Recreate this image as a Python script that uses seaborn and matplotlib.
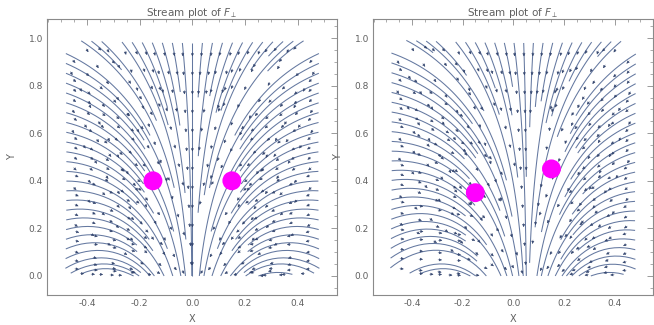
import numpy as np
import matplotlib
matplotlib.use("Agg")
import matplotlib.pyplot as plt
import seaborn as sns
import pandas as pd
from matplotlib.patches import FancyArrowPatch
from matplotlib.ticker import MultipleLocator

# ---------------- data ----------------
panel_title = "Stream plot of $F_{\\perp}$"
charges_left_x = [-0.15, 0.15]
charges_left_y = [0.40, 0.40]
charges_right_x = [-0.15, 0.15]
charges_right_y = [0.35, 0.45]
x_domain = [-0.5, 0.5]
y_domain = [0.0, 1.0]
x_ticks = [-0.4, -0.2, 0.0, 0.2, 0.4]
y_ticks = [0.0, 0.2, 0.4, 0.6, 0.8, 1.0]
x_label = "X"
y_label = "Y"

LINE_COLOR = "#6478a0"
ARROW_COLOR = "#34466f"
FRAME_COLOR = "#8a8a8a"
TEXT_COLOR = "#606060"
DOT_COLOR = "#ff00ff"

sns.set_theme(style="white")
plt.rcParams["font.family"] = ["DejaVu Sans"]


def field(x, y, cx, cy, s=10.02, depth=1.788, q=2.0, k=0.62, p=3):
    w = np.asarray(cy, float) ** p
    xc = float(np.sum(np.asarray(cx, float) * w) / np.sum(w))
    X = s * (x - xc)
    Y = (y + depth) ** q
    r4 = (X ** 2 + Y ** 2) ** 2
    vx = -2.0 * X * Y / r4
    vy = (X ** 2 - Y ** 2) / r4
    return vx / s, k * vy / (q * (y + depth) ** (q - 1)), xc


def draw_panel(ax, cx, cy):
    gx = np.linspace(x_domain[0], x_domain[1], 241)
    gy = np.linspace(y_domain[0], y_domain[1], 241)
    X, Y = np.meshgrid(gx, gy)
    U, V, xc = field(X, Y, cx, cy)
    ax.set_xlim(-0.553, 0.55)
    ax.set_ylim(-0.08, 1.08)
    # seed lines along the inflow boundaries
    e = 1e-5
    ys = np.arange(0.02, 0.97, 0.042)
    xs = np.arange(-0.44, 0.45, 0.04)
    seeds = [[x_domain[0] + e, v] for v in ys] + [[x_domain[1] - e, v] for v in ys]
    seeds += [[v, y_domain[1] - e] for v in xs]
    bx = np.concatenate([np.arange(-0.48, -0.36, 0.04), np.arange(0.40, 0.49, 0.04)])
    for v in bx:
        xv = v + xc
        if x_domain[0] + e < xv < x_domain[1] - e:
            seeds.append([xv, y_domain[0] + e])
    seeds = np.array(seeds)
    sp = ax.streamplot(gx, gy, U, V, density=1.6, color=LINE_COLOR,
                       linewidth=0.75, arrowsize=0.01, start_points=seeds,
                       integration_direction="forward", maxlength=10.0)
    for p in list(ax.patches):
        p.remove()
    # rebuild trajectories from the library's line segments, add arrows
    segs = sp.lines.get_segments()
    paths = []
    cur = None
    for sg in segs:
        sg = np.asarray(sg)
        if cur is not None and np.allclose(sg[0], cur[-1]):
            cur.append(sg[-1])
        else:
            if cur is not None:
                paths.append(np.array(cur))
            cur = [sg[0], sg[-1]]
    if cur is not None:
        paths.append(np.array(cur))
    spacing = 19.0
    inv = ax.transData.inverted()
    for path in paths:
        disp = ax.transData.transform(path)
        d = np.sqrt(np.sum(np.diff(disp, axis=0) ** 2, axis=1))
        cum = np.concatenate([[0], np.cumsum(d)])
        total = cum[-1]
        pos = spacing * 0.6
        while pos < total - 3:
            i = int(np.searchsorted(cum, pos)) - 1
            i = max(0, min(i, len(path) - 2))
            a = disp[i]
            b = disp[i + 1]
            vec = b - a
            n = float(np.hypot(vec[0], vec[1]))
            if n > 0:
                t = (pos - cum[i]) / max(d[i], 1e-9)
                c = a + t * vec
                u = vec / n
                p0 = inv.transform(c - u * 2.0)
                p1 = inv.transform(c + u * 2.0)
                arr = FancyArrowPatch(tuple(p0), tuple(p1), arrowstyle="-|>",
                                      mutation_scale=4.2, shrinkA=0, shrinkB=0,
                                      facecolor=ARROW_COLOR, edgecolor=ARROW_COLOR,
                                      lw=0.3, zorder=4)
                ax.add_artist(arr)
            pos += spacing
    df = pd.DataFrame({"x": cx, "y": cy})
    sns.scatterplot(data=df, x="x", y="y", ax=ax, s=185, color=DOT_COLOR,
                    edgecolor="none", zorder=5)
    ax.set_xticks(x_ticks)
    ax.set_yticks(y_ticks)
    ax.xaxis.set_minor_locator(MultipleLocator(0.05))
    ax.yaxis.set_minor_locator(MultipleLocator(0.05))
    ax.set_xticklabels([f"{t:.1f}" for t in x_ticks])
    ax.set_yticklabels([f"{t:.1f}" for t in y_ticks])
    ax.tick_params(which="both", direction="in", top=True, right=True,
                   colors=FRAME_COLOR, labelcolor=TEXT_COLOR, labelsize=6.5)
    ax.tick_params(which="major", length=4, width=0.6, pad=3)
    ax.tick_params(which="minor", length=2, width=0.5)
    for sp_ in ax.spines.values():
        sp_.set_color(FRAME_COLOR)
        sp_.set_linewidth(0.8)
        sp_.set_visible(True)
    ax.set_xlabel(x_label, color=TEXT_COLOR, fontsize=7, labelpad=4)
    ax.set_ylabel(y_label, color=TEXT_COLOR, fontsize=7, labelpad=8)
    ax.set_title(panel_title, color=TEXT_COLOR, fontsize=7.5, pad=2)


fig = plt.figure(figsize=(6.54, 3.25), dpi=100)
ax1 = fig.add_axes([47 / 654, 30 / 325, 290 / 654, 276 / 325])
ax2 = fig.add_axes([373 / 654, 30 / 325, 280 / 654, 276 / 325])
draw_panel(ax1, charges_left_x, charges_left_y)
draw_panel(ax2, charges_right_x, charges_right_y)
fig.savefig("out.png", dpi=100, facecolor="white")
